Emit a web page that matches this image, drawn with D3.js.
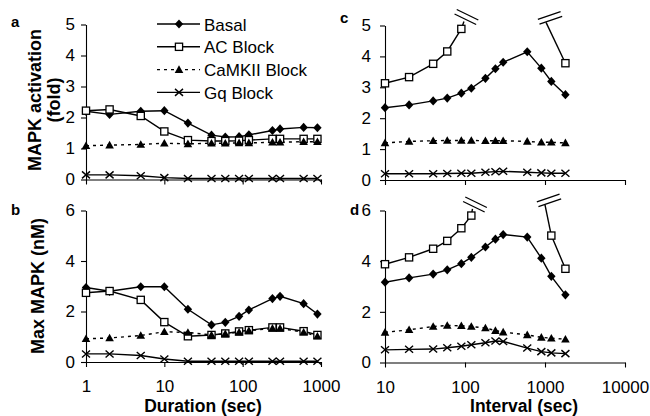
<!DOCTYPE html>
<html>
<head>
<meta charset="utf-8">
<script src="https://d3js.org/d3.v7.min.js"></script>
<title>MAPK activation</title>
<style>
body { margin: 0; background: #fff; }
svg { display: block; }
text { font-family: "Liberation Sans", Arial, sans-serif; fill: #000; }
.bold { font-weight: bold; }
</style>
</head>
<body>
<svg width="650" height="416"></svg>
<script>

// x values
const durations = [1, 2, 5, 10, 20, 40, 60, 90, 120, 240, 300, 600, 900];
const intervals = [10, 20, 40, 60, 90, 120, 180, 240, 300, 600, 900, 1200, 1800];

const seriesNames = ["Basal", "AC Block", "CaMKII Block", "Gq Block"];

// a: MAPK activation (fold) vs duration
const basalA = [2.2, 2.1, 2.2, 2.22, 1.82, 1.43, 1.37, 1.38, 1.44, 1.58, 1.63, 1.68, 1.67];
const acA    = [2.22, 2.26, 2.05, 1.55, 1.27, 1.24, 1.24, 1.25, 1.27, 1.31, 1.31, 1.31, 1.31];
const camA   = [1.09, 1.11, 1.13, 1.17, 1.15, 1.17, 1.17, 1.18, 1.18, 1.2, 1.2, 1.22, 1.22];
const gqA    = [0.15, 0.15, 0.12, 0.06, 0.03, 0.03, 0.03, 0.03, 0.03, 0.03, 0.03, 0.03, 0.03];

// b: max MAPK (nM) vs duration
const basalB = [2.95, 2.8, 2.98, 2.98, 2.09, 1.47, 1.57, 1.81, 2.06, 2.51, 2.6, 2.31, 1.9];
const acB    = [2.74, 2.81, 2.46, 1.58, 1.02, 1.07, 1.13, 1.21, 1.26, 1.37, 1.37, 1.22, 1.07];
const camB   = [0.92, 0.95, 1.05, 1.2, 1.17, 1.07, 1.12, 1.18, 1.24, 1.33, 1.33, 1.18, 1.02];
const gqB    = [0.32, 0.32, 0.26, 0.12, 0.03, 0.03, 0.03, 0.03, 0.03, 0.03, 0.03, 0.03, 0.03];

// c: MAPK activation (fold) vs interval
const basalC = [2.34, 2.43, 2.56, 2.65, 2.81, 2.97, 3.29, 3.6, 3.81, 4.15, 3.62, 3.19, 2.76];
const acC    = [3.13, 3.33, 3.76, 4.16, 4.89, null, null, null, null, null, null, null, 3.78];
const camC   = [1.2, 1.25, 1.27, 1.28, 1.28, 1.28, 1.27, 1.27, 1.27, 1.25, 1.22, 1.22, 1.2];
const gqC    = [0.2, 0.2, 0.2, 0.21, 0.22, 0.22, 0.25, 0.27, 0.28, 0.25, 0.23, 0.22, 0.22];

// d: max MAPK (nM) vs interval
const basalD = [3.17, 3.34, 3.49, 3.66, 3.9, 4.15, 4.56, 4.87, 5.05, 4.95, 4.12, 3.4, 2.67];
const acD    = [3.88, 4.15, 4.49, 4.8, 5.3, 5.8, null, null, null, null, null, 5.01, 3.7];
const camD   = [1.19, 1.29, 1.42, 1.46, 1.45, 1.42, 1.36, 1.26, 1.2, 1.09, 0.99, 0.96, 0.92];
const gqD    = [0.5, 0.52, 0.53, 0.58, 0.64, 0.7, 0.78, 0.85, 0.83, 0.57, 0.43, 0.38, 0.35];

// off-scale AC Block values: where the line runs to the axis break (x, y, index of joined point)
const breaksC = [{x: 97, y: 5.13, at: 4}, {x: 1030, y: 5.1, at: 12}];
const breaksD = [{x: 124, y: 6.06, at: 5}, {x: 1000, y: 6.22, at: 11}];

const svg = d3.select("svg");
const markerTypes = ["diamond", "square", "triangle", "cross"];

function drawMarker(g, type, cx, cy) {
  if (type == "diamond") {
    g.append("path")
      .attr("d", `M${cx},${cy - 4.6}L${cx + 4.2},${cy}L${cx},${cy + 4.6}L${cx - 4.2},${cy}Z`)
      .attr("fill", "#000");
  } else if (type == "square") {
    g.append("rect")
      .attr("x", cx - 3.6).attr("y", cy - 3.6)
      .attr("width", 7.2).attr("height", 7.2)
      .attr("fill", "#fff").attr("stroke", "#000").attr("stroke-width", 1.3);
  } else if (type == "triangle") {
    g.append("path")
      .attr("d", `M${cx},${cy - 4.3}L${cx + 4.3},${cy + 3.3}L${cx - 4.3},${cy + 3.3}Z`)
      .attr("fill", "#000");
  } else {
    g.append("path")
      .attr("d", `M${cx - 4},${cy - 3.5}L${cx + 4},${cy + 3.5}M${cx - 4},${cy + 3.5}L${cx + 4},${cy - 3.5}`)
      .attr("stroke", "#000").attr("stroke-width", 1.4).attr("fill", "none");
  }
}

function drawBreakMark(g, cx, cy, angle) {
  let a = angle * Math.PI / 180;
  let dx = Math.cos(a) * 12, dy = Math.sin(a) * 12;
  let nx = -Math.sin(a) * 2.5, ny = Math.cos(a) * 2.5;
  [-1, 1].forEach(s => {
    g.append("line")
      .attr("x1", cx - dx + s * nx).attr("y1", cy - dy + s * ny)
      .attr("x2", cx + dx + s * nx).attr("y2", cy + dy + s * ny)
      .attr("stroke", "#000").attr("stroke-width", 1.3);
  });
}

function drawPanel(p) {
  let x = d3.scaleLog().domain(p.xDomain).range(p.xRange);
  let y = d3.scaleLinear().domain([0, p.yMax]).range(p.yRange);
  let g = svg.append("g");

  g.append("g")
    .attr("transform", `translate(${p.xRange[0]},0)`)
    .call(d3.axisLeft(y).tickValues(p.yTicks).tickSize(5).tickSizeOuter(0)
      .tickPadding(p.yPad).tickFormat(d3.format("d")));
  g.append("g")
    .attr("transform", `translate(0,${p.yRange[0]})`)
    .call(d3.axisBottom(x).tickValues(p.xTicks).tickSize(5).tickSizeOuter(0)
      .tickPadding(13).tickFormat(p.showX ? d3.format("d") : ""));
  g.selectAll(".domain, .tick line").attr("stroke", "#000").attr("stroke-width", 1.1);
  g.selectAll(".tick text").attr("font-size", 17)
    .attr("font-family", "'Liberation Sans', Arial, sans-serif");

  let line = d3.line()
    .defined(d => d[1] != null)
    .x(d => x(d[0])).y(d => y(d[1]));

  p.series.forEach((vals, si) => {
    let pts = p.xs.map((xv, i) => [xv, vals[i]]);
    g.append("path")
      .datum(pts)
      .attr("d", line)
      .attr("fill", "none")
      .attr("stroke", "#000")
      .attr("stroke-width", 1.4)
      .attr("stroke-dasharray", si == 2 ? "3,4" : null);
  });

  // AC Block runs off the scale: stubs to the break marks
  (p.breaks || []).forEach(b => {
    let px = x(p.xs[b.at]), py = y(p.series[1][b.at]);
    let bx = x(b.x), by = y(b.y);
    g.append("line")
      .attr("x1", px).attr("y1", py).attr("x2", bx).attr("y2", by)
      .attr("stroke", "#000").attr("stroke-width", 1.4);
    let leftSide = bx > px;
    drawBreakMark(g, bx + (leftSide ? 2.5 : 4), by - 4.5, leftSide ? 26 : -19);
  });

  p.series.forEach((vals, si) => {
    p.xs.forEach((xv, i) => {
      if (vals[i] != null) drawMarker(g, markerTypes[si], x(xv), y(vals[i]));
    });
  });

  g.append("text")
    .attr("class", "bold")
    .attr("x", p.label[1]).attr("y", p.label[2])
    .attr("font-size", 15)
    .text(p.label[0]);
}

drawPanel({
  xDomain: [1, 1000], xRange: [86, 321], xTicks: [1, 10, 100, 1000], showX: false,
  yMax: 5, yRange: [179.5, 24.5], yTicks: [0, 1, 2, 3, 4, 5], yPad: 6,
  xs: durations, series: [basalA, acA, camA, gqA], label: ["a", 11, 27]
});
drawPanel({
  xDomain: [1, 1000], xRange: [86, 321], xTicks: [1, 10, 100, 1000], showX: true,
  yMax: 6, yRange: [362, 210.5], yTicks: [0, 2, 4, 6], yPad: 6,
  xs: durations, series: [basalB, acB, camB, gqB], label: ["b", 11, 215]
});
drawPanel({
  xDomain: [10, 10000], xRange: [385, 625], xTicks: [10, 100, 1000, 10000], showX: false,
  yMax: 5, yRange: [180, 25.5], yTicks: [0, 1, 2, 3, 4, 5], yPad: 9,
  xs: intervals, series: [basalC, acC, camC, gqC], breaks: breaksC, label: ["c", 340, 23]
});
drawPanel({
  xDomain: [10, 10000], xRange: [385, 625], xTicks: [10, 100, 1000, 10000], showX: true,
  yMax: 6, yRange: [362.5, 210.5], yTicks: [0, 2, 4, 6], yPad: 9,
  xs: intervals, series: [basalD, acD, camD, gqD], breaks: breaksD, label: ["d", 350, 215]
});

// axis titles
function vTitle(txt, cx, cy) {
  svg.append("text")
    .attr("class", "bold")
    .attr("transform", `translate(${cx},${cy}) rotate(-90)`)
    .attr("text-anchor", "middle")
    .attr("font-size", 18)
    .text(txt);
}
vTitle("MAPK activation", 41, 100);
vTitle("(fold)", 60, 100);
vTitle("Max MAPK (nM)", 44, 286);

svg.append("text").attr("class", "bold")
  .attr("x", 203).attr("y", 412).attr("text-anchor", "middle")
  .attr("font-size", 17.5).text("Duration (sec)");
svg.append("text").attr("class", "bold")
  .attr("x", 524).attr("y", 412).attr("text-anchor", "middle")
  .attr("font-size", 17.5).text("Interval (sec)");

// legend
let legend = svg.append("g");
seriesNames.forEach((name, i) => {
  let ly = 24 + i * 22.8;
  legend.append("line")
    .attr("x1", 157).attr("x2", 200).attr("y1", ly).attr("y2", ly)
    .attr("stroke", "#000").attr("stroke-width", 1.4)
    .attr("stroke-dasharray", i == 2 ? "3,4" : null);
  drawMarker(legend, markerTypes[i], 179, ly);
  legend.append("text")
    .attr("x", 204).attr("y", ly + 6.5)
    .attr("font-size", 17)
    .text(name);
});

</script>
</body>
</html>
